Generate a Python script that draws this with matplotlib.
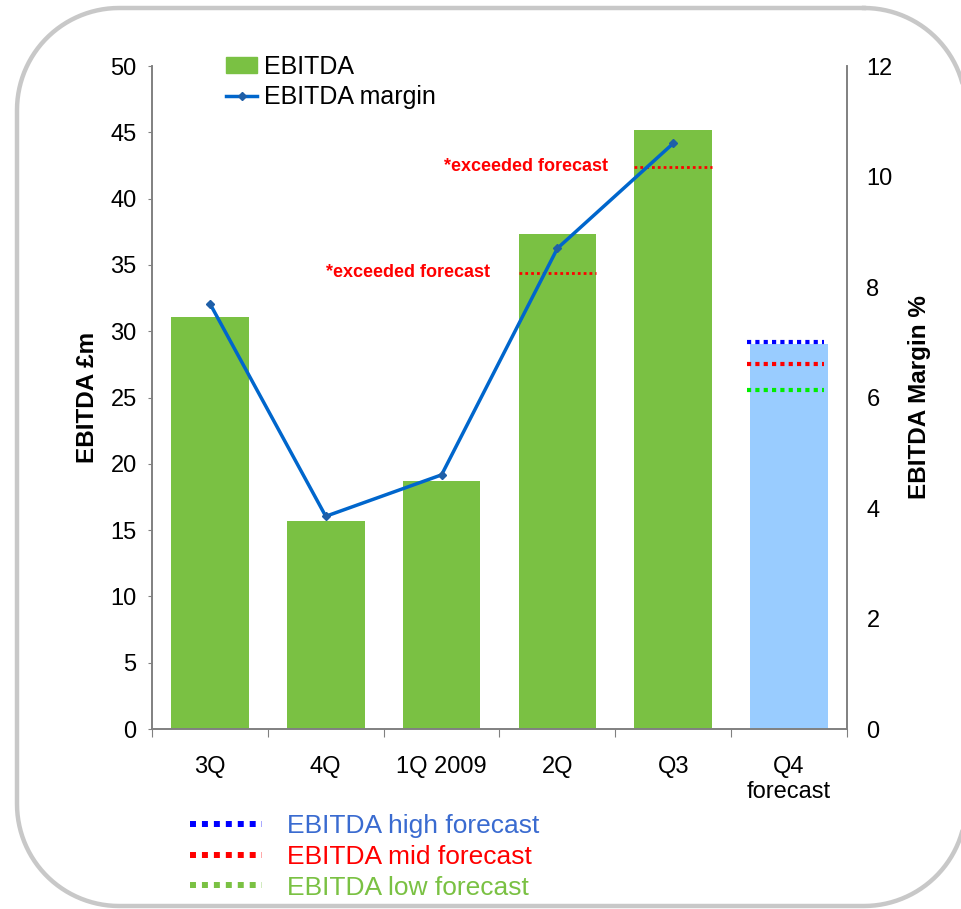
import numpy as np
import matplotlib.pyplot as plt
from matplotlib.lines import Line2D
from matplotlib.patches import Patch

plt.rcParams['font.family'] = ['Liberation Sans', 'DejaVu Sans']

quarters = ["3Q", "4Q", "1Q 2009", "2Q", "Q3", "Q4\nforecast"]
ebitda = [31.1, 15.7, 18.7, 37.3, 45.2, 29.0]
margin = [7.7, 3.85, 4.6, 8.7, 10.6]
# forecast levels for Q4 (high / mid / low)
fc_high = 29.2
fc_mid = 27.5
fc_low = 25.6
# earlier mid forecasts that were beaten (2Q, Q3)
beaten_idx = [3, 4]
beaten_fc = [34.4, 42.4]

GREEN = "#7AC143"
LIGHTBLUE = "#99CCFF"
LINEBLUE = "#0066CC"
MARKER = "#1F5FA8"
W = 0.67


def rounded_rect(x0, y0, x1, y1, r, n=30):
    """Outline of a rounded rectangle in pixel units (y pointing down)."""
    corners = [(x1 - r, y0 + r, -90, 0), (x1 - r, y1 - r, 0, 90),
               (x0 + r, y1 - r, 90, 180), (x0 + r, y0 + r, 180, 270)]
    xs, ys = [], []
    for cx, cy, a0, a1 in corners:
        t = np.radians(np.linspace(a0, a1, n))
        xs.extend(cx + r * np.cos(t))
        ys.extend(cy + r * np.sin(t))
    xs.append(xs[0])
    ys.append(ys[0])
    return xs, ys


fig = plt.figure(figsize=(9.61, 9.09), dpi=100)

# rounded frame around the whole chart, drawn in pixel units
bg = fig.add_axes([0, 0, 1, 1], zorder=-1)
bg.set_xlim(0, 961)
bg.set_ylim(909, 0)
bg.axis("off")
fx, fy = rounded_rect(17, 8, 966, 906, 102)
bg.plot(fx, fy, color="#C8C8C8", lw=3.2, clip_on=False)

ax = fig.add_axes([152 / 961, 1 - 729 / 909, 695 / 961, 663 / 909])
ax2 = ax.twinx()

x = list(range(len(quarters)))
colors = [GREEN] * 5 + [LIGHTBLUE]
ax.bar(x, ebitda, width=W, color=colors, zorder=2)

# dotted forecast markers
for i, v in zip(beaten_idx, beaten_fc):
    ax.plot([i - W / 2, i + W / 2], [v, v], color="red", lw=2,
            linestyle=(0, (1, 1.1)), zorder=3)
for v, c in [(fc_high, "#0000FF"), (fc_mid, "#FF0000"), (fc_low, "#00EE00")]:
    ax.plot([5 - W / 2 - 0.03, 5 + W / 2 - 0.03], [v, v], color=c, lw=3,
            linestyle=(0, (1, 1)), zorder=3)

ax.text(2.42, beaten_fc[0], "*exceeded forecast", color="red", fontsize=13,
        fontweight="bold", ha="right", va="center")
ax.text(3.44, beaten_fc[1], "*exceeded forecast", color="red", fontsize=13,
        fontweight="bold", ha="right", va="center")

ax2.plot(x[:5], margin, color=LINEBLUE, lw=2.5, marker="D", markersize=4.5,
         markerfacecolor=MARKER, markeredgecolor=MARKER, zorder=4)

ax.set_xlim(-0.5, 5.5)
ax.set_ylim(0, 50)
ax.set_yticks(range(0, 51, 5))
ax2.set_ylim(0, 12)
ax2.set_yticks(range(0, 13, 2))

# category boundaries as major ticks, names as minor tick labels
ax.set_xticks([i - 0.5 for i in range(7)])
ax.set_xticklabels([])
ax.set_xticks(x, minor=True)
ax.set_xticklabels(quarters, minor=True)
ax.tick_params(axis="x", which="major", length=6, color="#808080", direction="out")
ax.tick_params(axis="x", which="minor", length=0, pad=19.5, labelsize=17)
ax.tick_params(axis="y", length=3, color="#808080", pad=8, labelsize=17)
ax2.tick_params(axis="y", length=0, pad=14, labelsize=17)

for a in (ax, ax2):
    a.spines["top"].set_visible(False)
    for s in ("left", "right", "bottom"):
        a.spines[s].set_color("#808080")
        a.spines[s].set_linewidth(1.2)

ax.set_ylabel("EBITDA £m", fontsize=17.5, fontweight="bold", labelpad=8)
ax2.set_ylabel("EBITDA Margin %", fontsize=17.5, fontweight="bold", labelpad=11)

# series legend, top left
top_handles = [Patch(color=GREEN),
               Line2D([], [], color=LINEBLUE, lw=2.5, marker="D", markersize=4.5,
                      markerfacecolor=MARKER, markeredgecolor=MARKER)]
fig.legend(top_handles, ["EBITDA", "EBITDA margin"], loc="upper left",
           bbox_to_anchor=(226 / 961, 1 - 55 / 909), frameon=False, fontsize=18,
           handlelength=1.24, handleheight=0.6, handletextpad=0.28,
           labelspacing=0.24, borderpad=0, borderaxespad=0)

# forecast legend, bottom
fc_handles = [Line2D([], [], color=c, lw=4.3, linestyle=(0, (1, 1)),
                     dash_capstyle="butt")
              for c in ("#0000FF", "#FF0000", GREEN)]
fig.legend(fc_handles, ["EBITDA high forecast", "EBITDA mid forecast",
                        "EBITDA low forecast"],
           loc="upper left", bbox_to_anchor=(190 / 961, 1 - 814 / 909),
           frameon=False, fontsize=19, handlelength=2.73, handletextpad=0.95,
           labelspacing=0.26, borderpad=0, borderaxespad=0,
           labelcolor=["#3A6BD0", "#FF0000", GREEN])

fig.savefig("out.png", dpi=100)
